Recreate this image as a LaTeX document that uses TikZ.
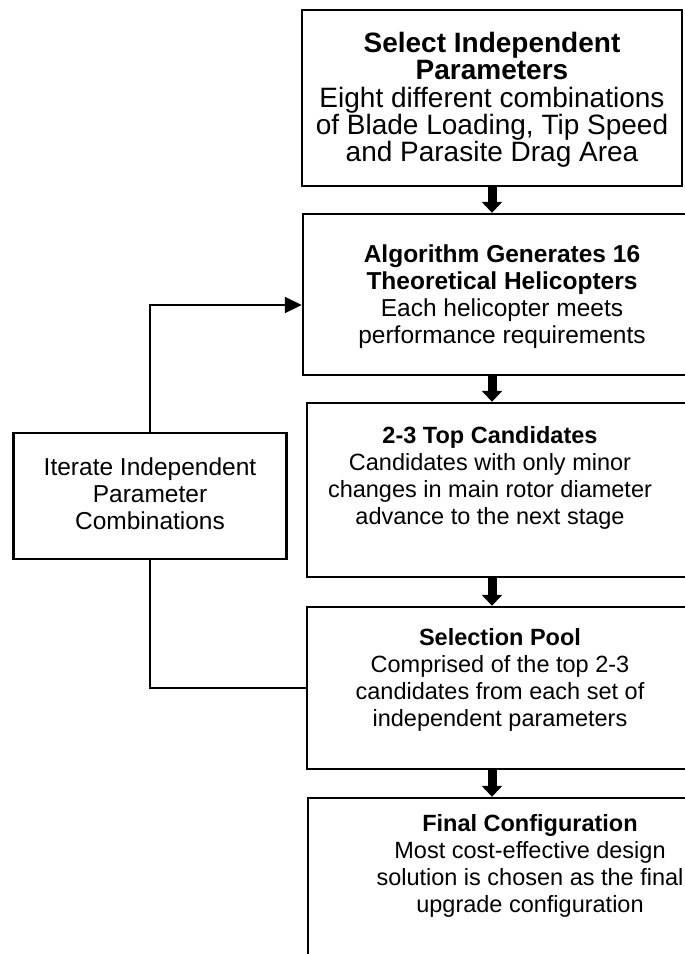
\documentclass[tikz,border=0pt]{standalone}
\usepackage{fontspec}
\setmainfont{Liberation Sans}
\usetikzlibrary{arrows.meta}
\begin{document}
\begin{tikzpicture}[x=1pt,y=-1pt,
  boxst/.style={draw, line width=2.4pt, inner sep=0pt},
  txt/.style={align=center, inner sep=0pt, font=\fontsize{23.5}{27}\selectfont},
  bigtxt/.style={txt, font=\fontsize{28}{27.3}\selectfont},
  fat/.style={line width=9pt, -{Triangle[length=11pt,width=20pt]}},
  fb/.style={line width=2pt}]
\useasboundingbox (0,0) rectangle (685,954);
\clip (0,0) rectangle (685,954);
% boxes
\node[boxst, minimum width=380pt, minimum height=176pt] (b1) at (492,98) {};
\node[boxst, minimum width=457pt, minimum height=161pt] (b2) at (531.5,294.5) {};
\node[boxst, minimum width=453pt, minimum height=174pt] (b3) at (533.5,490) {};
\node[boxst, minimum width=453pt, minimum height=162pt] (b4) at (533.5,688) {};
\node[boxst, minimum width=452pt, minimum height=220pt] (b5) at (534,908) {};
\node[boxst, minimum width=273pt, minimum height=126pt] (lb) at (150,496) {};
% texts
\node[bigtxt] (t1) at (492,100) {\textbf{Select Independent}\\\textbf{Parameters}\\Eight different combinations\\of Blade Loading, Tip Speed\\and Parasite Drag Area};
\node[txt, font=\fontsize{24.5}{27}\selectfont] (t2) at (502,297) {\textbf{Algorithm Generates 16}\\\textbf{Theoretical Helicopters}\\Each helicopter meets\\performance requirements};
\node[txt] (t3) at (490,478) {\textbf{2-3 Top Candidates}\\Candidates with only minor\\changes in main rotor diameter\\advance to the next stage};
\node[txt] (t4) at (500,680) {\textbf{Selection Pool}\\Comprised of the top 2-3\\candidates from each set of\\independent parameters};
\node[txt] (t5) at (530,866) {\textbf{Final Configuration}\\Most cost-effective design\\solution is chosen as the final\\upgrade configuration};
\node[txt, font=\fontsize{24.5}{27}\selectfont] (tl) at (150,494) {Iterate Independent\\Parameter\\Combinations};
% block arrows
\draw[fat] (b1.south) -- (b2.north -| b1.south);
\draw[fat] (b2.south -| b1.south) -- (b3.north -| b1.south);
\draw[fat] (b3.south -| b1.south) -- (b4.north -| b1.south);
\draw[fat] (b4.south -| b1.south) -- (b5.north -| b1.south);
% feedback loop
\coordinate (fin) at (b2.west |- 0,305);
\draw[fb, -{Triangle[length=17pt,width=16pt]}] (lb.north) |- (fin);
\draw[fb] (lb.south) |- (b4.west);
\end{tikzpicture}
\end{document}
